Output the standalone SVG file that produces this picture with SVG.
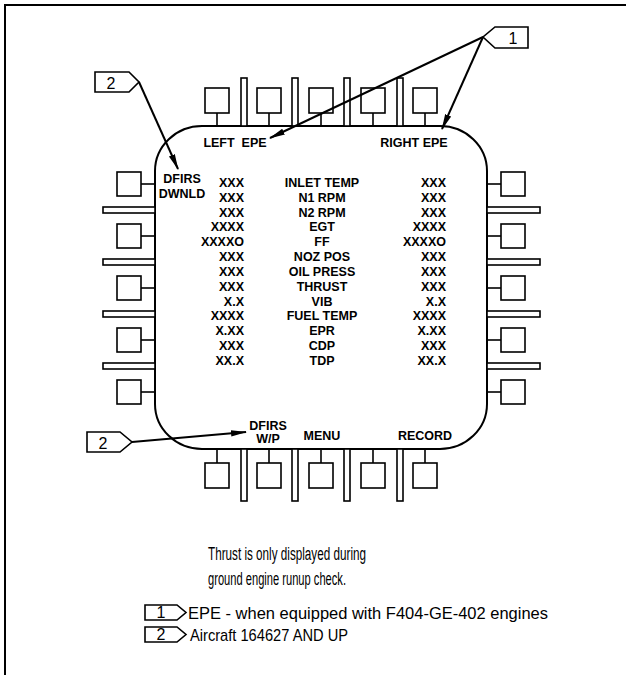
<svg xmlns="http://www.w3.org/2000/svg" width="626" height="675" viewBox="0 0 626 675">
<defs>
<style>
.ln{fill:none;stroke:#000;stroke-width:2}
.btn{fill:#fff;stroke:#000;stroke-width:1.6}
.bar{fill:#fff;stroke:#000;stroke-width:1.6}
.stem{stroke:#000;stroke-width:1.6}
.t{font-family:"Liberation Sans",Arial,sans-serif;font-size:12.5px;font-weight:bold;fill:#000}
.c{text-anchor:middle}
.e{text-anchor:end}
.n{font-family:"Liberation Sans",Arial,sans-serif;font-size:16px;fill:#000}
.big{font-size:18px}
.flag{fill:#fff;stroke:#000;stroke-width:1.6}
.lead{fill:none;stroke:#000;stroke-width:2}
</style>
<marker id="ah" markerWidth="16" markerHeight="8" refX="15" refY="4" orient="auto" markerUnits="userSpaceOnUse">
<path d="M0,0.8 L16,4 L0,7.2 z" fill="#000"/>
</marker>
</defs>
<rect width="626" height="675" fill="#fff"/>
<g id="frame"><path class="ln" d="M5,675 V5 H626"/></g>

<g id="display">
<rect x="155" y="126" width="332" height="323" rx="47" ry="45" class="ln"/>
</g>

<g id="top-buttons">
<g id="tb1"><rect class="btn" x="205" y="88" width="24" height="25"/><line class="stem" x1="217" y1="113" x2="217" y2="126"/></g>
<g id="tb2"><rect class="btn" x="257" y="88" width="24" height="25"/><line class="stem" x1="269" y1="113" x2="269" y2="126"/></g>
<g id="tb3"><rect class="btn" x="309" y="88" width="24" height="25"/><line class="stem" x1="321" y1="113" x2="321" y2="126"/></g>
<g id="tb4"><rect class="btn" x="361" y="88" width="24" height="25"/><line class="stem" x1="373" y1="113" x2="373" y2="126"/></g>
<g id="tb5"><rect class="btn" x="413" y="88" width="24" height="25"/><line class="stem" x1="425" y1="113" x2="425" y2="126"/></g>
<rect class="bar" x="241" y="78" width="6" height="48"/>
<rect class="bar" x="292" y="78" width="6" height="48"/>
<rect class="bar" x="344" y="78" width="6" height="48"/>
<rect class="bar" x="397" y="78" width="6" height="48"/>
</g>

<g id="bottom-buttons">
<g id="bb1"><rect class="btn" x="205" y="463" width="24" height="25"/><line class="stem" x1="217" y1="449" x2="217" y2="463"/></g>
<g id="bb2"><rect class="btn" x="257" y="463" width="24" height="25"/><line class="stem" x1="269" y1="449" x2="269" y2="463"/></g>
<g id="bb3"><rect class="btn" x="309" y="463" width="24" height="25"/><line class="stem" x1="321" y1="449" x2="321" y2="463"/></g>
<g id="bb4"><rect class="btn" x="361" y="463" width="24" height="25"/><line class="stem" x1="373" y1="449" x2="373" y2="463"/></g>
<g id="bb5"><rect class="btn" x="413" y="463" width="24" height="25"/><line class="stem" x1="425" y1="449" x2="425" y2="463"/></g>
<rect class="bar" x="241" y="449" width="6" height="52"/>
<rect class="bar" x="292" y="449" width="6" height="52"/>
<rect class="bar" x="344" y="449" width="6" height="52"/>
<rect class="bar" x="397" y="449" width="6" height="52"/>
</g>

<g id="left-buttons">
<g id="lb1"><rect class="btn" x="117" y="172" width="24" height="24"/><line class="stem" x1="141" y1="184" x2="155" y2="184"/></g>
<g id="lb2"><rect class="btn" x="117" y="224" width="24" height="24"/><line class="stem" x1="141" y1="236" x2="155" y2="236"/></g>
<g id="lb3"><rect class="btn" x="117" y="276" width="24" height="24"/><line class="stem" x1="141" y1="288" x2="155" y2="288"/></g>
<g id="lb4"><rect class="btn" x="117" y="328" width="24" height="24"/><line class="stem" x1="141" y1="340" x2="155" y2="340"/></g>
<g id="lb5"><rect class="btn" x="117" y="380" width="24" height="24"/><line class="stem" x1="141" y1="392" x2="155" y2="392"/></g>
<rect class="bar" x="103" y="207" width="52" height="6"/>
<rect class="bar" x="103" y="259" width="52" height="6"/>
<rect class="bar" x="103" y="311" width="52" height="6"/>
<rect class="bar" x="103" y="363" width="52" height="6"/>
</g>

<g id="right-buttons">
<g id="rb1"><rect class="btn" x="501" y="172" width="24" height="24"/><line class="stem" x1="487" y1="184" x2="501" y2="184"/></g>
<g id="rb2"><rect class="btn" x="501" y="224" width="24" height="24"/><line class="stem" x1="487" y1="236" x2="501" y2="236"/></g>
<g id="rb3"><rect class="btn" x="501" y="276" width="24" height="24"/><line class="stem" x1="487" y1="288" x2="501" y2="288"/></g>
<g id="rb4"><rect class="btn" x="501" y="328" width="24" height="24"/><line class="stem" x1="487" y1="340" x2="501" y2="340"/></g>
<g id="rb5"><rect class="btn" x="501" y="380" width="24" height="24"/><line class="stem" x1="487" y1="392" x2="501" y2="392"/></g>
<rect class="bar" x="487" y="207" width="53" height="6"/>
<rect class="bar" x="487" y="259" width="53" height="6"/>
<rect class="bar" x="487" y="311" width="53" height="6"/>
<rect class="bar" x="487" y="363" width="53" height="6"/>
</g>

<g id="labels">
<text class="t c" x="235" y="147" xml:space="preserve">LEFT  EPE</text>
<text class="t c" x="414" y="147">RIGHT EPE</text>
<text class="t c" x="182" y="183">DFIRS</text>
<text class="t c" x="182" y="198">DWNLD</text>
<text class="t c" x="268" y="430">DFIRS</text>
<text class="t c" x="268" y="443">W/P</text>
<text class="t c" x="322" y="440">MENU</text>
<text class="t c" x="425" y="440">RECORD</text>
</g>

<g id="data">
<g class="t c">
<text x="322" y="187">INLET TEMP</text>
<text x="322" y="202">N1 RPM</text>
<text x="322" y="217">N2 RPM</text>
<text x="322" y="231">EGT</text>
<text x="322" y="246">FF</text>
<text x="322" y="261">NOZ POS</text>
<text x="322" y="276">OIL PRESS</text>
<text x="322" y="291">THRUST</text>
<text x="322" y="306">VIB</text>
<text x="322" y="320">FUEL TEMP</text>
<text x="322" y="335">EPR</text>
<text x="322" y="350">CDP</text>
<text x="322" y="365">TDP</text>
</g>
<g class="t e">
<text x="244" y="187">XXX</text>
<text x="244" y="202">XXX</text>
<text x="244" y="217">XXX</text>
<text x="244" y="231">XXXX</text>
<text x="244" y="246">XXXXO</text>
<text x="244" y="261">XXX</text>
<text x="244" y="276">XXX</text>
<text x="244" y="291">XXX</text>
<text x="244" y="306">X.X</text>
<text x="244" y="320">XXXX</text>
<text x="244" y="335">X.XX</text>
<text x="244" y="350">XXX</text>
<text x="244" y="365">XX.X</text>
<text x="446" y="187">XXX</text>
<text x="446" y="202">XXX</text>
<text x="446" y="217">XXX</text>
<text x="446" y="231">XXXX</text>
<text x="446" y="246">XXXXO</text>
<text x="446" y="261">XXX</text>
<text x="446" y="276">XXX</text>
<text x="446" y="291">XXX</text>
<text x="446" y="306">X.X</text>
<text x="446" y="320">XXXX</text>
<text x="446" y="335">X.XX</text>
<text x="446" y="350">XXX</text>
<text x="446" y="365">XX.X</text>
</g>
</g>

<g id="connectors">
<line class="lead" x1="139" y1="82" x2="178" y2="169" marker-end="url(#ah)"/>
<line class="lead" x1="483" y1="37" x2="270" y2="138" marker-end="url(#ah)"/>
<line class="lead" x1="483" y1="37" x2="442" y2="129" marker-end="url(#ah)"/>
<line class="lead" x1="132" y1="442" x2="246" y2="432" marker-end="url(#ah)"/>
</g>

<g id="flag-2-top">
<polygon class="flag" points="95,72 129,72 139,82 129,92 95,92"/>
<text class="n c" x="111" y="89">2</text>
</g>
<g id="flag-1-top">
<polygon class="flag" points="528,27 495,27 483,37 495,48 528,48"/>
<text class="n c" x="513" y="44">1</text>
</g>
<g id="flag-2-bottom">
<polygon class="flag" points="87,432 120,432 132,442 120,452 87,452"/>
<text class="n c" x="103" y="449">2</text>
</g>

<g id="notes">
<text class="n big" x="208" y="560" textLength="158" lengthAdjust="spacingAndGlyphs">Thrust is only displayed during</text>
<text class="n big" x="208" y="585" textLength="138" lengthAdjust="spacingAndGlyphs">ground engine runup check.</text>
</g>
<g id="legend-1">
<polygon class="flag" points="145,605 177,605 186,612.5 177,620 145,620"/>
<text class="n c" x="161" y="618">1</text>
<text class="n" x="188" y="619" textLength="360" lengthAdjust="spacingAndGlyphs" style="font-size:17px">EPE - when equipped with F404-GE-402 engines</text>
</g>
<g id="legend-2">
<polygon class="flag" points="145,627 177,627 186,634.5 177,642 145,642"/>
<text class="n c" x="161" y="640">2</text>
<text class="n" x="190" y="641" textLength="158" lengthAdjust="spacingAndGlyphs" style="font-size:17px">Aircraft 164627 AND UP</text>
</g>
</svg>
